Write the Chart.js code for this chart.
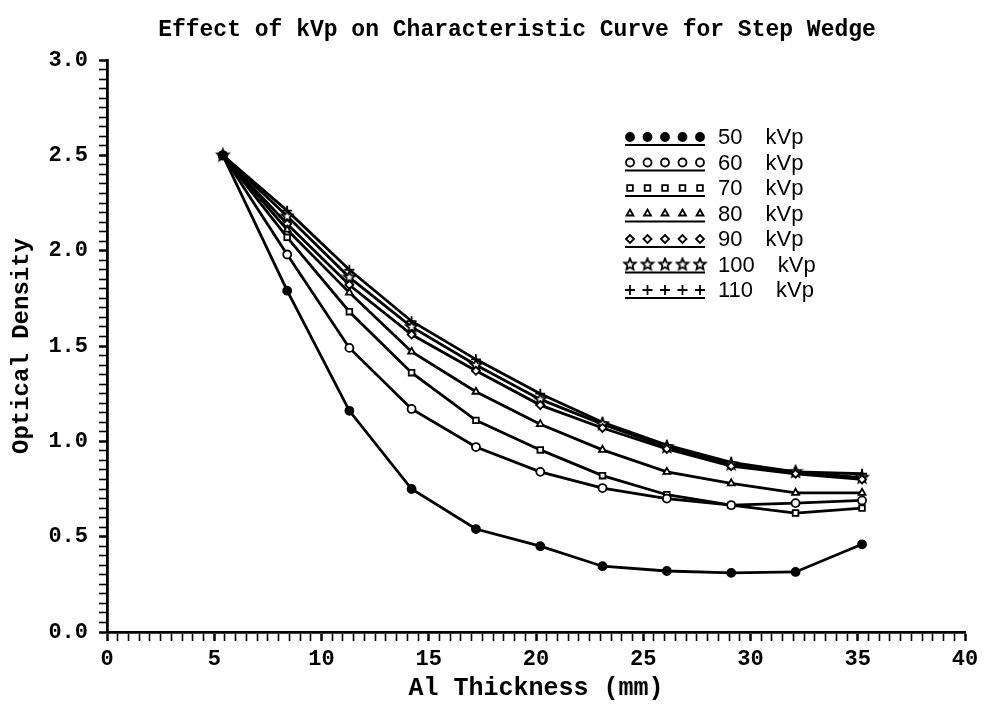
<!DOCTYPE html>
<html>
<head>
<meta charset="utf-8">
<script src="https://cdn.jsdelivr.net/npm/chart.js@4/dist/chart.umd.min.js"></script>
<style>
  html, body { margin: 0; padding: 0; background: #fff; }
  #wrap { width: 988px; height: 704px; }
</style>
</head>
<body>
<div id="wrap"><canvas id="chart" width="988" height="704"></canvas></div>
<script>
// Al thickness of each step (mm)
const thickness = [5.4, 8.4, 11.3, 14.2, 17.2, 20.2, 23.1, 26.1, 29.1, 32.1, 35.2];

// optical density per kVp
const od50  = [2.50, 1.79, 1.16, 0.75, 0.54, 0.45, 0.345, 0.32, 0.31, 0.315, 0.46];
const od60  = [2.50, 1.98, 1.49, 1.17, 0.97, 0.84, 0.755, 0.70, 0.665, 0.676, 0.69];
const od70  = [2.50, 2.07, 1.68, 1.36, 1.11, 0.955, 0.82, 0.72, 0.665, 0.624, 0.65];
const od80  = [2.50, 2.11, 1.78, 1.47, 1.26, 1.09, 0.955, 0.84, 0.78, 0.73, 0.73];
const od90  = [2.50, 2.14, 1.82, 1.56, 1.37, 1.19, 1.07, 0.96, 0.87, 0.83, 0.80];
const od100 = [2.50, 2.18, 1.86, 1.60, 1.40, 1.22, 1.09, 0.97, 0.88, 0.84, 0.81];
const od110 = [2.50, 2.21, 1.90, 1.63, 1.43, 1.25, 1.10, 0.98, 0.89, 0.84, 0.83];

const seriesLabels = ['50', '60', '70', '80', '90', '100', '110'];
const seriesValues = [od50, od60, od70, od80, od90, od100, od110];

// outline 5 point star used for 100 kVp
function makeStar(r) {
  const c = document.createElement('canvas');
  c.width = c.height = r * 2 + 4;
  const g = c.getContext('2d');
  g.translate(r + 2, r + 2);
  g.beginPath();
  for (let i = 0; i < 10; i++) {
    const rad = i % 2 === 0 ? r : r * 0.45;
    const a = -Math.PI / 2 + i * Math.PI / 5;
    g.lineTo(Math.cos(a) * rad, Math.sin(a) * rad);
  }
  g.closePath();
  g.fillStyle = '#fff';
  g.fill();
  g.lineWidth = 1.8;
  g.strokeStyle = '#000';
  g.stroke();
  return c;
}
const starImg = makeStar(6);

const styles = ['circle', 'circle', 'rect', 'triangle', 'rectRot', starImg, 'cross'];
const fills = ['#000', '#fff', '#fff', '#fff', '#fff', '#fff', '#fff'];

const datasets = seriesValues.map((vals, i) => ({
  label: seriesLabels[i] + ' kVp',
  data: thickness.map((x, j) => ({ x: x, y: vals[j] })),
  borderColor: '#000',
  borderWidth: 2.8,
  pointStyle: styles[i],
  pointRadius: i === 6 ? 5 : 4,
  pointBackgroundColor: fills[i],
  pointBorderColor: '#000',
  pointBorderWidth: 1.8,
  tension: 0,
  fill: false
}));

const monoFont = '"Liberation Mono", "DejaVu Sans Mono", monospace';

// chart title + legend drawn by hand to look like the plotter output
const decorations = {
  id: 'decorations',
  afterDraw(chart) {
    const ctx = chart.ctx;
    ctx.save();
    ctx.fillStyle = '#000';
    ctx.font = 'bold 23px ' + monoFont;
    ctx.textAlign = 'center';
    ctx.textBaseline = 'middle';
    ctx.fillText('Effect of kVp on Characteristic Curve for Step Wedge', 517, 30);

    const x0 = 630, gap = 17.5, top = 137, rowH = 25.5;
    ctx.textAlign = 'left';
    ctx.font = '22px "Liberation Sans", Arial, sans-serif';
    chart.data.datasets.forEach((ds, i) => {
      const y = top + i * rowH;
      for (let k = 0; k < 5; k++) {
        ctx.fillStyle = ds.pointBackgroundColor;
        ctx.strokeStyle = '#000';
        ctx.lineWidth = ds.pointBorderWidth;
        Chart.helpers.drawPoint(ctx, {
          pointStyle: ds.pointStyle,
          radius: ds.pointRadius,
          borderWidth: ds.pointBorderWidth,
          rotation: 0
        }, x0 + k * gap, y);
      }
      ctx.beginPath();
      ctx.lineWidth = 2.2;
      ctx.strokeStyle = '#000';
      ctx.moveTo(x0 - 5, y + 8);
      ctx.lineTo(x0 + 4 * gap + 5, y + 8);
      ctx.stroke();
      ctx.fillStyle = '#000';
      const num = seriesLabels[i];
      ctx.fillText(num, 718, y + 1);
      ctx.fillText('kVp', 718 + ctx.measureText(num).width + 23, y + 1);
    });
    ctx.restore();
  }
};

new Chart(document.getElementById('chart'), {
  type: 'line',
  data: { datasets: datasets },
  options: {
    responsive: false,
    animation: false,
    layout: { padding: { top: 60, right: 23, left: 0, bottom: 0 } },
    plugins: {
      legend: { display: false },
      title: { display: false },
      tooltip: { enabled: false }
    },
    scales: {
      x: {
        type: 'linear',
        min: 0,
        max: 40,
        afterFit: (s) => { s.height = 72; },
        border: { color: '#000', width: 2.8 },
        grid: {
          drawOnChartArea: false,
          tickLength: 9,
          tickColor: '#000',
          tickWidth: (c) => (Math.abs(c.tick.value % 5) < 1e-6 ? 2.5 : 1.6)
        },
        ticks: {
          stepSize: 0.5,
          autoSkip: false,
          maxRotation: 0,
          padding: 5,
          color: '#000',
          font: { family: monoFont, size: 22, weight: 'bold' },
          callback: (v) => (Math.abs(v % 5) < 1e-6 ? String(Math.round(v)) : '')
        },
        title: {
          display: true,
          text: 'Al Thickness (mm)',
          color: '#000',
          font: { family: monoFont, size: 25, weight: 'bold' },
          padding: { top: 0, bottom: 0 }
        }
      },
      y: {
        min: 0,
        max: 3,
        afterFit: (s) => { s.width = 107; },
        border: { color: '#000', width: 2.8 },
        grid: {
          drawOnChartArea: false,
          tickLength: 8,
          tickColor: '#000',
          tickWidth: (c) => (Math.abs(c.tick.value * 2 - Math.round(c.tick.value * 2)) < 1e-6 ? 2.5 : 1.6)
        },
        ticks: {
          stepSize: 0.05,
          autoSkip: false,
          padding: 11,
          color: '#000',
          font: { family: monoFont, size: 22, weight: 'bold' },
          callback: (v) => (Math.abs(v * 2 - Math.round(v * 2)) < 1e-6 ? v.toFixed(1) : '')
        },
        title: {
          display: true,
          text: 'Optical Density',
          color: '#000',
          font: { family: monoFont, size: 24, weight: 'bold' },
          padding: { top: 8, bottom: 0 }
        }
      }
    }
  },
  plugins: [decorations]
});
</script>
</body>
</html>
